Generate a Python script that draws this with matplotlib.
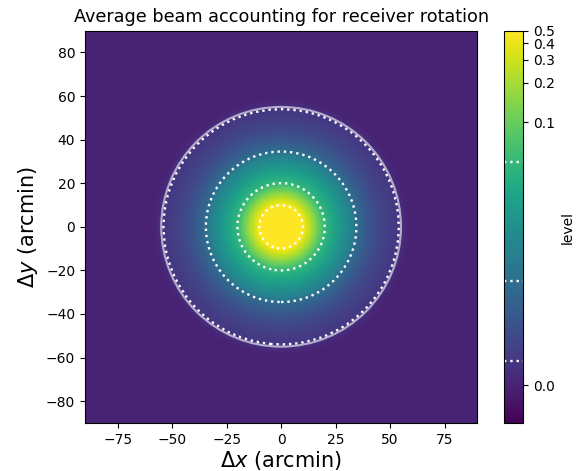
import numpy as np
import matplotlib
matplotlib.use("Agg")
import matplotlib.pyplot as plt
from matplotlib.colors import SymLogNorm
from matplotlib.patches import Circle

# radial profile of the rotation-averaged beam
radius_arcmin = [0, 5, 10, 15, 20, 27, 34.5, 45, 54, 55.5, 57, 59, 90]
beam_level    = [1.0, 0.8, 0.5, 0.17, 0.05, 0.02, 0.0079, 0.0035, 0.00185, 0.0011, 0.0004, 0.0, 0.0]

contour_levels = [0.00185, 0.0079, 0.05, 0.5]
cbar_ticks = [0.0, 0.1, 0.2, 0.3, 0.4, 0.5]
edge_radius = 55.0

# grid
x = np.linspace(-90, 90, 721)
X, Y = np.meshgrid(x, x)
R = np.hypot(X, Y)
eps = 1e-4
Z = 10**np.interp(R, radius_arcmin, np.log10(np.array(beam_level) + eps)) - eps

fig = plt.figure(figsize=(5.82, 4.71), dpi=100)
ax = fig.add_axes([0.146, 0.101, 0.674, 0.835])
cax = fig.add_axes([0.866, 0.101, 0.033, 0.834])

norm = SymLogNorm(linthresh=0.01, linscale=0.9, vmin=-0.0029, vmax=0.5, base=10)
im = ax.pcolormesh(X, Y, Z, cmap="viridis", norm=norm, shading="auto", rasterized=True)
cs = ax.contour(X, Y, Z, levels=contour_levels, colors="white", linestyles=":", linewidths=1.7)
ax.add_patch(Circle((0, 0), edge_radius, fill=False, ec="white", alpha=0.6, lw=1.5))

ax.set_xlim(-90, 90)
ax.set_ylim(-90, 90)
ax.set_aspect("equal")
ax.set_xticks([-75, -50, -25, 0, 25, 50, 75])
ax.set_yticks([-80, -60, -40, -20, 0, 20, 40, 60, 80])
ax.tick_params(labelsize=10)
ax.set_xlabel(r"$\Delta x$ (arcmin)", fontsize=15, labelpad=2)
ax.set_ylabel(r"$\Delta y$ (arcmin)", fontsize=15)
ax.set_title("Average beam accounting for receiver rotation", fontsize=12.7)

cb = fig.colorbar(im, cax=cax)
# contour levels drawn as dotted lines on the colorbar
for lev in contour_levels:
    cb.ax.axhline(lev, color="white", linestyle=":", linewidth=1.7)
cb.set_ticks(cbar_ticks)
cb.set_ticklabels(["%.1f" % t for t in cbar_ticks])
cb.ax.minorticks_off()
cb.ax.tick_params(labelsize=10)
cb.set_label("level", fontsize=10)

fig.savefig("out.png", dpi=100)
